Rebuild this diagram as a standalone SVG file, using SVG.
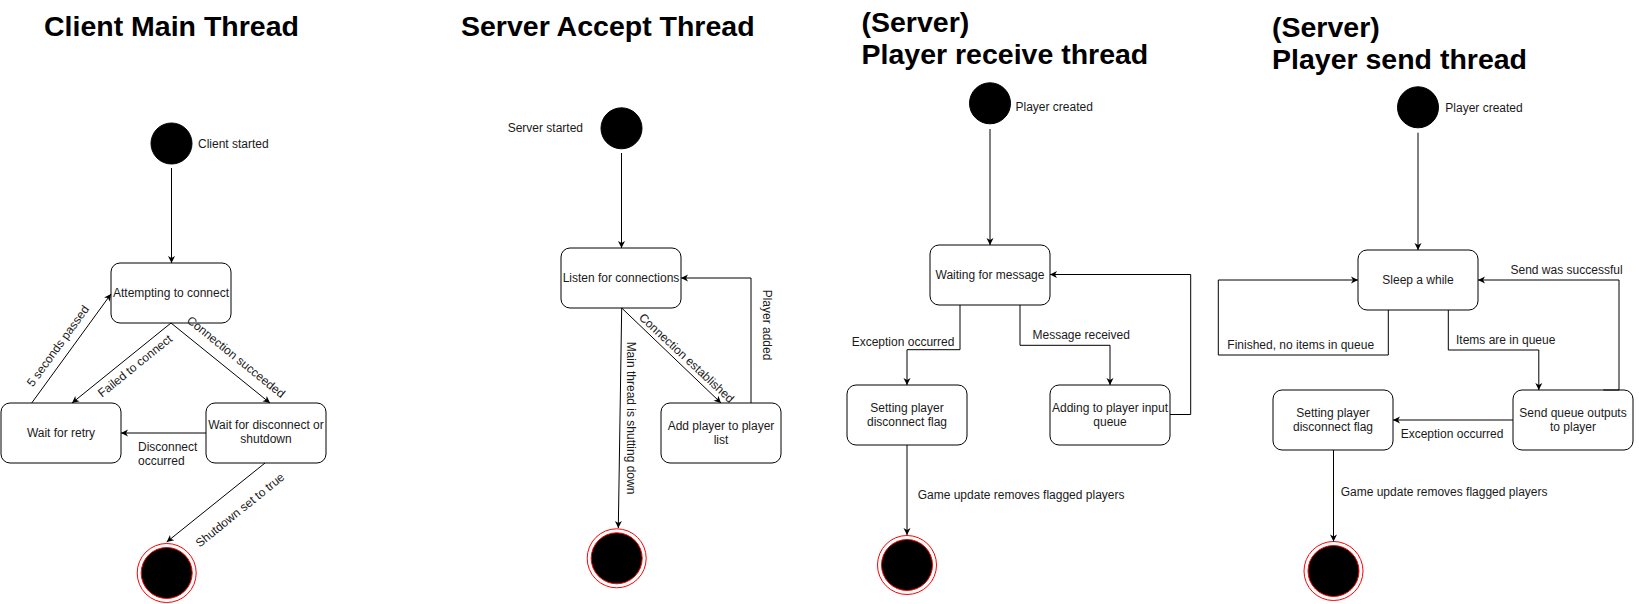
<svg xmlns="http://www.w3.org/2000/svg" width="1639" height="604" viewBox="0 0 1639 604">
<style>
  .title{font-family:"Liberation Sans",Arial,sans-serif;font-weight:bold;font-size:28.5px;fill:#000}
  .lbl{font-family:"Liberation Sans",Arial,sans-serif;font-size:12px;fill:#1a1a1a}
  .c{text-anchor:middle}
  .box{fill:#fff;stroke:#000;stroke-width:1}
  .start{fill:#000;stroke:#000;stroke-width:1}
  .endo{fill:#fff;stroke:#ff0000;stroke-width:1}
  .endi{fill:#000;stroke:#ff0000;stroke-width:1}
  .edge{fill:none;stroke:#000;stroke-width:1;marker-end:url(#arr)}
</style>
<defs>
  <marker id="arr" viewBox="-8 -4 9 8" refX="0" refY="0" markerWidth="9" markerHeight="8" markerUnits="userSpaceOnUse" orient="auto">
    <path d="M-7,-3.5 L0,0 L-7,3.5 L-5,0 Z" fill="#000"/>
  </marker>
</defs>
<rect width="1639" height="604" fill="#fff"/>

<!-- Titles -->
<g id="titles">
  <text class="title" x="44" y="36">Client Main Thread</text>
  <text class="title" x="461" y="36">Server Accept Thread</text>
  <text class="title" x="861.5" y="31.5">(Server)</text>
  <text class="title" x="861.5" y="63.5">Player receive thread</text>
  <text class="title" x="1272" y="36.5">(Server)</text>
  <text class="title" x="1272" y="68.5">Player send thread</text>
</g>

<!-- Diagram 1: Client Main Thread -->
<g id="client-start"><circle class="start" cx="171.5" cy="143.5" r="20.5"/><text class="lbl" x="198" y="148">Client started</text></g>
<g id="client-attempt"><rect class="box" x="111" y="263" width="120" height="60" rx="9"/><text class="lbl c" x="171" y="297">Attempting to connect</text></g>
<g id="client-retry"><rect class="box" x="1" y="403" width="120" height="60" rx="9"/><text class="lbl c" x="61" y="437">Wait for retry</text></g>
<g id="client-wait"><rect class="box" x="206" y="403" width="120" height="60" rx="9"/><text class="lbl c" x="266" y="429">Wait for disconnect or</text><text class="lbl c" x="266" y="443">shutdown</text></g>
<g id="client-end"><circle class="endo" cx="166.7" cy="573" r="29.5"/><circle class="endi" cx="166.7" cy="573" r="25.5"/></g>

<!-- Diagram 2: Server Accept Thread -->
<g id="accept-start"><circle class="start" cx="621.5" cy="128.3" r="20.5"/><text class="lbl" x="583" y="132" text-anchor="end">Server started</text></g>
<g id="accept-listen"><rect class="box" x="561" y="248" width="120" height="60" rx="9"/><text class="lbl c" x="621" y="282">Listen for connections</text></g>
<g id="accept-add"><rect class="box" x="661" y="403" width="120" height="60" rx="9"/><text class="lbl c" x="721" y="430">Add player to player</text><text class="lbl c" x="721" y="444">list</text></g>
<g id="accept-end"><circle class="endo" cx="616.7" cy="558.3" r="29.5"/><circle class="endi" cx="616.7" cy="558.3" r="25.5"/></g>

<!-- Diagram 3: Player receive thread -->
<g id="recv-start"><circle class="start" cx="990" cy="103.3" r="20.5"/><text class="lbl" x="1015.5" y="110.5">Player created</text></g>
<g id="recv-wait"><rect class="box" x="930" y="245" width="120" height="60" rx="9"/><text class="lbl c" x="990" y="279">Waiting for message</text></g>
<g id="recv-flag"><rect class="box" x="847" y="385" width="120" height="60" rx="9"/><text class="lbl c" x="907" y="412">Setting player</text><text class="lbl c" x="907" y="426">disconnect flag</text></g>
<g id="recv-queue"><rect class="box" x="1050" y="385" width="120" height="60" rx="9"/><text class="lbl c" x="1110" y="412">Adding to player input</text><text class="lbl c" x="1110" y="426">queue</text></g>
<g id="recv-end"><circle class="endo" cx="907" cy="565" r="29.5"/><circle class="endi" cx="907" cy="565" r="25.5"/></g>

<!-- Diagram 4: Player send thread -->
<g id="send-start"><circle class="start" cx="1418" cy="107.3" r="20.5"/><text class="lbl" x="1445.3" y="111.5">Player created</text></g>
<g id="send-sleep"><rect class="box" x="1358" y="250" width="120" height="60" rx="9"/><text class="lbl c" x="1418" y="284">Sleep a while</text></g>
<g id="send-out"><rect class="box" x="1513" y="390" width="120" height="60" rx="9"/><text class="lbl c" x="1573" y="417">Send queue outputs</text><text class="lbl c" x="1573" y="431">to player</text></g>
<g id="send-flag"><rect class="box" x="1273" y="390" width="120" height="60" rx="9"/><text class="lbl c" x="1333" y="416.5">Setting player</text><text class="lbl c" x="1333" y="430.5">disconnect flag</text></g>
<g id="send-end"><circle class="endo" cx="1333.5" cy="571" r="29.5"/><circle class="endi" cx="1333.5" cy="571" r="25.5"/></g>

<!-- Connectors -->
<g id="connectors">
  <!-- Diagram 1 -->
  <path class="edge" d="M171.5,168 L171.5,263"/>
  <path class="edge" d="M31.7,403 L111,294"/>
  <path class="edge" d="M171,323 L72,403"/>
  <path class="edge" d="M171,323 L270,403"/>
  <path class="edge" d="M206,433 L121,433"/>
  <path class="edge" d="M265,463 L166.7,542"/>
  <!-- Diagram 2 -->
  <path class="edge" d="M621.5,153 L621.5,248"/>
  <path class="edge" d="M621.7,308 L618.3,528"/>
  <path class="edge" d="M621.7,308 L721,403"/>
  <path class="edge" d="M751,403 L751,278 L681,278"/>
  <!-- Diagram 3 -->
  <path class="edge" d="M990,129 L990,245"/>
  <path class="edge" d="M960,305 L960,349.7 L907,349.7 L907,385"/>
  <path class="edge" d="M1020,305 L1020,345.3 L1110,345.3 L1110,385"/>
  <path class="edge" d="M1170,414.5 L1190.7,414.5 L1190.7,274.5 L1050,274.5"/>
  <path class="edge" d="M907,445 L907,535"/>
  <!-- Diagram 4 -->
  <path class="edge" d="M1418,132.7 L1418,250"/>
  <path class="edge" d="M1388.3,310 L1388.3,355 L1218.3,355 L1218.3,280 L1358,280"/>
  <path class="edge" d="M1448.3,310 L1448.3,350 L1538.8,350 L1538.8,390"/>
  <path class="edge" d="M1603.3,390 L1619,390 L1619,280 L1478,280"/>
  <path class="edge" d="M1513,420 L1393,420"/>
  <path class="edge" d="M1333.5,450 L1333.5,541.5"/>

  <!-- Connector labels -->
  <text class="lbl c" transform="translate(58,346) rotate(-54)" y="4">5 seconds passed</text>
  <text class="lbl c" transform="translate(135,366) rotate(-39)" y="4">Failed to connect</text>
  <text class="lbl c" transform="translate(236,357) rotate(39)" y="4">Connection succeeded</text>
  <text class="lbl" x="138" y="451">Disconnect</text>
  <text class="lbl" x="138" y="465">occurred</text>
  <text class="lbl c" transform="translate(240,510) rotate(-39)" y="4">Shutdown set to true</text>

  <text class="lbl c" transform="translate(630.7,418) rotate(90)" y="4">Main thread is shutting down</text>
  <text class="lbl c" transform="translate(686.5,358) rotate(43)" y="4">Connection established</text>
  <text class="lbl c" transform="translate(766.7,325) rotate(90)" y="4">Player added</text>

  <text class="lbl" x="851.7" y="346">Exception occurred</text>
  <text class="lbl" x="1032.5" y="339">Message received</text>
  <text class="lbl" x="917.7" y="498.5">Game update removes flagged players</text>

  <text class="lbl" x="1227.3" y="349">Finished, no items in queue</text>
  <text class="lbl" x="1456" y="344">Items are in queue</text>
  <text class="lbl" x="1510.5" y="274">Send was successful</text>
  <text class="lbl" x="1400.7" y="438">Exception occurred</text>
  <text class="lbl" x="1340.7" y="496">Game update removes flagged players</text>
</g>
</svg>
